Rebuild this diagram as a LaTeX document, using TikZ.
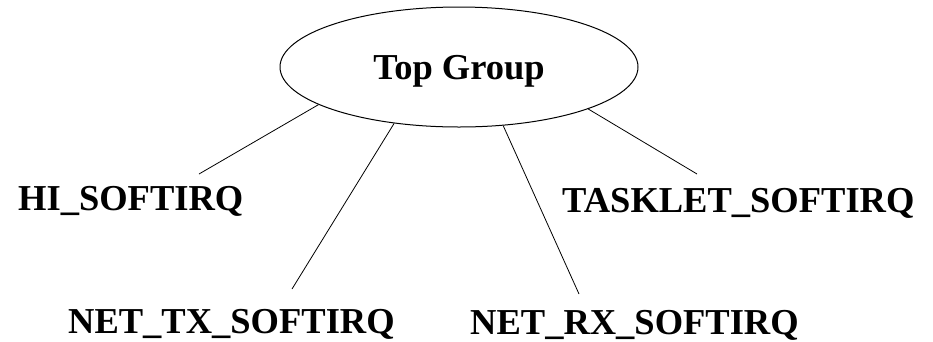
\documentclass[tikz,border=0pt]{standalone}
\usepackage{fontspec}
\setmainfont{Liberation Serif}
\usetikzlibrary{shapes.geometric}

\begin{document}
\begin{tikzpicture}[x=1pt,y=-1pt,
  every node/.style={font=\fontsize{36.5}{40}\selectfont\bfseries},
  group/.style={ellipse,draw,line width=1pt,minimum width=358pt,minimum height=120pt,
                inner sep=0pt,text depth=0pt},
  irq/.style={anchor=base west,inner sep=0pt},
  link/.style={line width=0.8pt}]
  \useasboundingbox (0,0) rectangle (933,341);

  % root of the tree
  \node[group] (top) at (459,67) {Top Group};

  % softirq labels
  \node[irq] (hi)      at (18,210)  {HI\_SOFTIRQ};
  \node[irq] (tasklet) at (562,212) {TASKLET\_SOFTIRQ};
  \node[irq] (nettx)   at (68,333)  {NET\_TX\_SOFTIRQ};
  \node[irq] (netrx)   at (470,334) {NET\_RX\_SOFTIRQ};

  % free ends of the branches, just above each label
  \coordinate (hiEnd)      at (199,174);
  \coordinate (taskletEnd) at (697,174);
  \coordinate (nettxEnd)   at (292,289);
  \coordinate (netrxEnd)   at (579,294);

  % branches
  \draw[link] (top.195)   -- (hiEnd);
  \draw[link] (top.221.6) -- (nettxEnd);
  \draw[link] (top.307.8) -- (netrxEnd);
  \draw[link] (top.342.3) -- (taskletEnd);
\end{tikzpicture}
\end{document}
